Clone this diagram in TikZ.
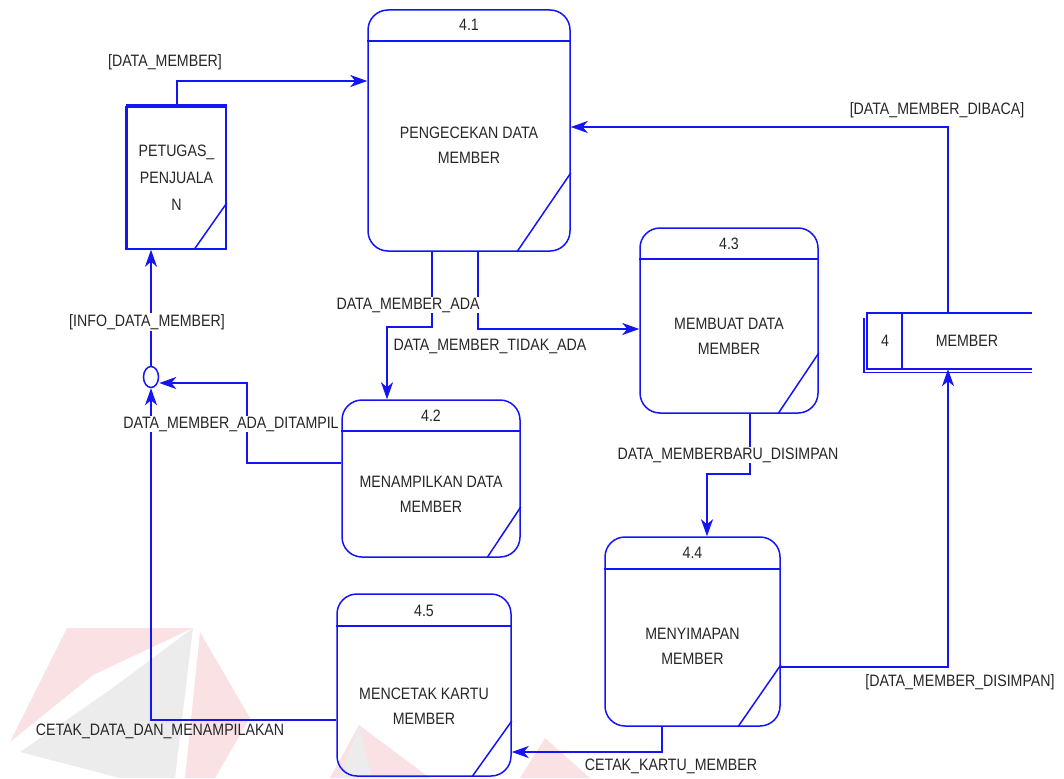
\documentclass[tikz,border=0pt]{standalone}
\usepackage{fontspec}
\setmainfont{Liberation Sans}[FakeStretch=0.86]
\usetikzlibrary{arrows.meta,shapes.geometric,positioning}
\definecolor{dfdblue}{RGB}{20,20,245}
\definecolor{wmpink}{RGB}{250,226,228}
\definecolor{wmgray}{RGB}{236,236,236}

\begin{document}
\begin{tikzpicture}[x=1pt,y=-1pt,
    proc/.style={draw=dfdblue,line width=1.5pt,rounded corners=20pt},
    part/.style={draw=dfdblue,line width=1.5pt},
    ptext/.style={align=center,font=\fontsize{16.5}{25}\selectfont,text=black!85},
    lbl/.style={font=\fontsize{16.5}{20}\selectfont,text=black!85,inner sep=1pt},
    wlbl/.style={lbl,fill=white},
    flow/.style={draw=dfdblue,line width=1.9pt,-{Stealth[length=17pt,width=12pt,inset=5pt]}},
    thinflow/.style={flow,line width=1.1pt}]

 \useasboundingbox (0,0) rectangle (1064,778);

 % watermark
 \fill[wmpink] (67,628) -- (193,628) -- (93,675) -- (10,742) -- cycle;
 \fill[wmgray] (193,628) -- (110,690) -- (20,752) -- (120,778) -- (175,778) -- cycle;
 \fill[wmpink] (200,632) -- (250,718) -- (215,778) -- (185,778) -- cycle;
 \fill[wmpink] (359,725) -- (430,778) -- (330,778) -- cycle;
 \fill[wmgray] (359,725) -- (372,778) -- (340,778) -- cycle;
 \fill[wmpink] (545,738) -- (590,778) -- (520,778) -- cycle;

 % processes
 \node[proc,minimum width=202pt,minimum height=241pt] (p41) at (469,130.5) {};
 \node[lbl] (n41) at (469,25) {4.1};
 \node[ptext] (t41) at (469,145.5) {PENGECEKAN DATA\\MEMBER};
 \draw[part] (p41.west |- 0,41) -- (p41.east |- 0,41);
 \draw[part] (p41.east |- 0,173) -- (p41.south -| 517,0);

 \node[proc,minimum width=178pt,minimum height=157pt] (p42) at (431,478.5) {};
 \node[lbl] (n42) at (431,416) {4.2};
 \node[ptext] (t42) at (431,494) {MENAMPILKAN DATA\\MEMBER};
 \draw[part] (p42.west |- 0,431) -- (p42.east |- 0,431);
 \draw[part] (p42.east |- 0,507) -- (p42.south -| 487,0);

 \node[proc,minimum width=178pt,minimum height=185pt] (p43) at (729,320.5) {};
 \node[lbl] (n43) at (729,244) {4.3};
 \node[ptext] (t43) at (729,336) {MEMBUAT DATA\\MEMBER};
 \draw[part] (p43.west |- 0,259) -- (p43.east |- 0,259);
 \draw[part] (p43.east |- 0,353) -- (p43.south -| 778,0);

 \node[proc,minimum width=175pt,minimum height=189pt] (p44) at (692.5,631.5) {};
 \node[lbl] (n44) at (692.5,553) {4.4};
 \node[ptext] (t44) at (692.5,646) {MENYIMAPAN\\MEMBER};
 \draw[part] (p44.west |- 0,569) -- (p44.east |- 0,569);
 \draw[part] (p44.east |- 0,665) -- (p44.south -| 738,0);

 \node[proc,minimum width=174pt,minimum height=182pt] (p45) at (424,685) {};
 \node[lbl] (n45) at (424,611) {4.5};
 \node[ptext] (t45) at (424,706) {MENCETAK KARTU\\MEMBER};
 \draw[part] (p45.west |- 0,626) -- (p45.east |- 0,626);
 \draw[part] (p45.east |- 0,721) -- (p45.south -| 472,0);

 % external entity
 \node[part,minimum width=99pt,minimum height=142pt,ptext,font=\fontsize{16.5}{27}\selectfont] (ent) at (176.5,178) {PETUGAS\_\\PENJUALA\\N};
 \draw[dfdblue,line width=4pt] (ent.north west) -- (ent.north east);
 \draw[dfdblue,line width=3pt] (ent.north west) -- (ent.south west);
 \draw[part] (ent.east |- 0,203) -- (ent.south -| 194,0);

 % data store
 \node[minimum width=167pt,minimum height=56pt] (store) at (948.5,341) {};
 \draw[part] (1032,313) -- (867,313) -- (867,369) -- (1032,369);
 \draw[part] (1032,372.5) -- (864,372.5) -- (864,318);
 \draw[part] (902,313) -- (902,369);
 \node[lbl] (sid) at (885,341) {4};
 \node[lbl] (sname) at (967,341) {MEMBER};

 % junction
 \node[ellipse,draw=dfdblue,line width=1.5pt,fill=white,minimum width=15pt,minimum height=21pt,inner sep=0pt] (junc) at (151,377) {};

 % flows
 \draw[flow] (ent.north -| 177,0) |- (p41.west |- 0,81);
 \draw[flow] (p41.south -| 432,0) -- (432,327) -| (p42.north -| 387,0);
 \draw[flow] (p41.south -| 478,0) |- (p43.west |- 0,329);
 \draw[flow] (p43.south -| 750,0) -- (750,474) -| (p44.north -| 707,0);
 \draw[flow] (p44.east |- 0,667) -| (store.south -| 948,0);
 \draw[flow] (store.north -| 948,0) |- (p41.east |- 0,127);
 \draw[flow] (p44.south -| 662,0) |- (p45.east |- 0,752);
 \draw[flow] (p42.west |- 0,463) -| (247,383) -- (junc.east |- 0,383);
 \draw[thinflow] (p45.west |- 0,720) -| (junc.south);
 \draw[flow] (junc.north) -- (ent.south -| 151,0);

 % flow labels
 \node[lbl] (l1) at (165,62) {[DATA\_MEMBER]};
 \node[wlbl] (l2) at (408,305) {DATA\_MEMBER\_ADA};
 \node[lbl] (l3) at (490,346) {DATA\_MEMBER\_TIDAK\_ADA};
 \node[wlbl] (l4) at (147,322) {[INFO\_DATA\_MEMBER]};
 \node[wlbl] (l5) at (231,424) {DATA\_MEMBER\_ADA\_DITAMPIL};
 \node[wlbl] (l6) at (728,455) {DATA\_MEMBERBARU\_DISIMPAN};
 \node[lbl] (l7) at (937,110) {[DATA\_MEMBER\_DIBACA]};
 \node[lbl] (l8) at (960,682) {[DATA\_MEMBER\_DISIMPAN]};
 \node[lbl] (l9) at (671,766) {CETAK\_KARTU\_MEMBER};
 \node[lbl] (l10) at (160,731) {CETAK\_DATA\_DAN\_MENAMPILAKAN};

\end{tikzpicture}
\end{document}
